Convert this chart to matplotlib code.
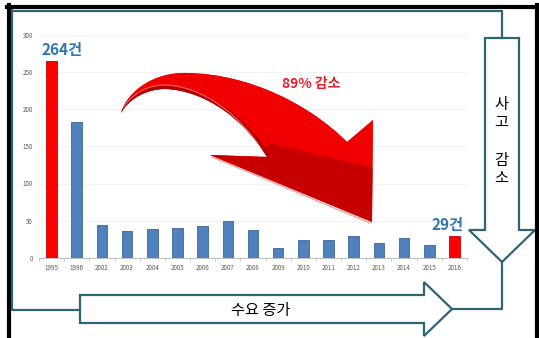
import matplotlib.pyplot as plt
from matplotlib.patches import Polygon, PathPatch
from matplotlib.path import Path
from matplotlib.colors import LinearSegmentedColormap
import numpy as np

plt.rcParams['font.family'] = ['Noto Sans CJK KR', 'DejaVu Sans']

# 데이터
years = ['1995', '1996', '2002', '2003', '2004', '2005', '2006', '2007', '2008',
         '2009', '2010', '2011', '2012', '2013', '2014', '2015', '2016']
accidents = [264, 183, 44, 36, 39, 40, 43, 50, 38, 14, 24, 24, 30, 20, 27, 18, 29]
highlight = ['1995', '2016']
yticks = [0, 50, 100, 150, 200, 250, 300]

W, H = 539, 338
fig = plt.figure(figsize=(W / 100, H / 100), dpi=100)
fig.patch.set_facecolor('white')

# 막대 그래프 영역 (픽셀 좌표 -> 비율)
ax = fig.add_axes([39 / W, (H - 258) / H, 428 / W, 223.5 / H])
x = np.arange(len(years))
colors = ['#FF0000' if y in highlight else '#4F81BD' for y in years]
edges = ['#C00000' if y in highlight else '#3B6595' for y in years]
ax.bar(x, accidents, width=0.42, color=colors, edgecolor=edges, linewidth=0.6, zorder=3)
ax.set_xlim(-0.5, len(years) - 0.5)
ax.set_ylim(0, 300)
ax.set_yticks(yticks)
ax.set_xticks(x)
ax.set_xticklabels(years)
ax.set_xticks(np.arange(len(years) + 1) - 0.5, minor=True)
ax.tick_params(axis='x', which='major', length=0, labelsize=4.5, labelcolor='#595959', pad=4)
ax.tick_params(axis='x', which='minor', length=2.5, color='#BFBFBF')
ax.tick_params(axis='y', length=0, labelsize=4.5, labelcolor='#595959', pad=4.5)
ax.grid(axis='y', color='#F2F2F2', linewidth=0.7, zorder=0)
for s in ['top', 'right', 'left']:
    ax.spines[s].set_visible(False)
ax.spines['bottom'].set_color('#BFBFBF')
ax.spines['bottom'].set_linewidth(0.7)
ax.set_facecolor('none')

# 값 라벨
ax.text(0.4, accidents[0] + 5, f'{accidents[0]}건', ha='center', va='bottom',
        fontsize=11, fontweight='bold', color='#2E75B6', zorder=5)
ax.text(len(years) - 1.28, accidents[-1] + 4, f'{accidents[-1]}건', ha='center', va='bottom',
        fontsize=11, fontweight='bold', color='#2E75B6', zorder=5)

# 장식용 오버레이 (픽셀 좌표)
ov = fig.add_axes([0, 0, 1, 1], zorder=10)
ov.axis('off')
ov.patch.set_alpha(0)

teal = '#2F6475'

# 검은 외곽선
ov.plot([9, 9], [5, H], color='black', lw=3)
ov.plot([7, W], [7, 7], color='black', lw=3)
ov.plot([537, 537], [5, H], color='black', lw=3)

# 청록색 연결선
ov.plot([11.5, 11.5, 80], [9.5, 310, 310], color=teal, lw=1.6)
ov.plot([11.5, 502, 502], [10.5, 10.5, 38], color=teal, lw=1.6)
ov.plot([502, 502, 452], [262, 309, 309], color=teal, lw=1.6)

# 아래쪽 화살표 (사고 감소)
down = [(485, 38), (519, 38), (519, 230), (535, 230), (502, 262), (469, 230), (485, 230)]
ov.add_patch(Polygon(down, closed=True, facecolor='white', edgecolor=teal, lw=1.6))
for ch, yy in zip(['사', '고', '감', '소'], [105, 122, 160, 178]):
    ov.text(501, yy, ch, ha='center', va='center', fontsize=11, color='black')

# 오른쪽 화살표 (수요 증가)
right = [(80, 295), (424, 295), (424, 282), (452, 309), (424, 336), (424, 323), (80, 323)]
ov.add_patch(Polygon(right, closed=True, facecolor='white', edgecolor=teal, lw=1.6))
ov.text(261, 310, '수요 증가', ha='center', va='center', fontsize=11, color='black')

# 빨간 곡선 화살표
verts = [(121, 113),
         (128, 90), (155, 72), (187, 73),
         (250, 74), (310, 105), (347, 142),
         (373, 120), (372, 222), (210, 155), (267, 157),
         (245, 120), (205, 90), (165, 89),
         (145, 89), (128, 100), (121, 113)]
codes = [Path.MOVETO,
         Path.CURVE4, Path.CURVE4, Path.CURVE4,
         Path.CURVE4, Path.CURVE4, Path.CURVE4,
         Path.LINETO, Path.LINETO, Path.LINETO, Path.LINETO,
         Path.CURVE4, Path.CURVE4, Path.CURVE4,
         Path.CURVE4, Path.CURVE4, Path.CLOSEPOLY]
arrow = PathPatch(Path(verts, codes), facecolor='#F00000', edgecolor='none')
ov.add_patch(arrow)

# 윗면 그라데이션
red_grad = LinearSegmentedColormap.from_list('rg', ['#E80000', '#F00000', '#FF2020', '#FF3A3A'])
gx = np.linspace(0, 1, 200)[None, :] * np.ones((50, 1))
gy = np.linspace(0, 1, 50)[:, None] * 0.3
img = ov.imshow(gx + gy, cmap=red_grad, extent=[120, 374, 224, 70],
                aspect='auto', interpolation='bilinear', vmin=0, vmax=1.3)
img.set_clip_path(arrow)

# 어두운 아래면
dark = ov.add_patch(Polygon([(210, 155), (267, 157), (268, 143), (373, 168), (372, 222)],
                            closed=True, facecolor='#C60000', edgecolor='none'))
dark.set_clip_path(arrow)

# 안쪽 곡선 띠 (입체감)
inner = Path([(267, 157), (245, 120), (205, 90), (165, 89),
              (145, 89), (128, 100), (121, 113)],
             [Path.MOVETO, Path.CURVE4, Path.CURVE4, Path.CURVE4,
              Path.CURVE4, Path.CURVE4, Path.CURVE4])
band = ov.add_patch(PathPatch(inner, facecolor='none', edgecolor='#B00000', lw=5))
band.set_clip_path(arrow)
hl = Path([(262, 150), (241, 116), (203, 86), (165, 85),
           (146, 85), (131, 95), (123, 108)],
          [Path.MOVETO, Path.CURVE4, Path.CURVE4, Path.CURVE4,
           Path.CURVE4, Path.CURVE4, Path.CURVE4])
hlp = ov.add_patch(PathPatch(hl, facecolor='none', edgecolor='#FF7070', lw=0.9, alpha=0.8))
hlp.set_clip_path(arrow)
# 아래쪽 모서리 하이라이트
ov.plot([212, 370], [157, 223], color='#FF6060', lw=0.8, alpha=0.7)

ov.text(311, 84, '89% 감소', ha='center', va='center', fontsize=10,
        fontweight='bold', color='#E8202A')

ov.set_xlim(0, W)
ov.set_ylim(H, 0)

fig.savefig('out.png', dpi=100)
